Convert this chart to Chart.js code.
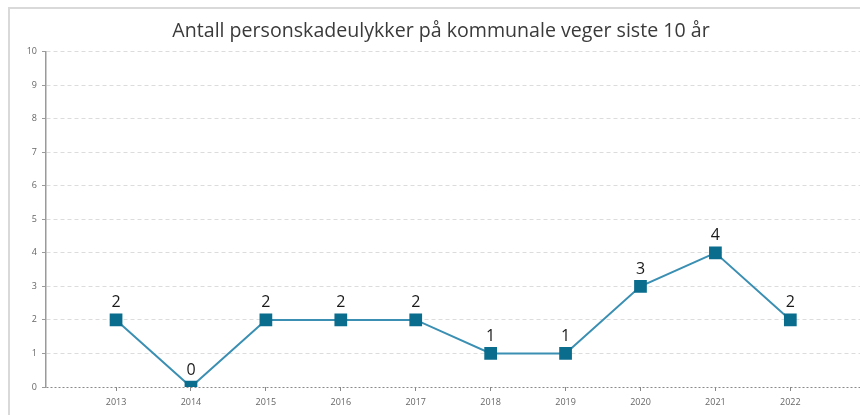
<!DOCTYPE html>
<html>
<head>
<meta charset="utf-8">
<script src="https://cdn.jsdelivr.net/npm/chart.js@4"></script>
<style>
  html, body { margin: 0; padding: 0; background: #fff; overflow: hidden; width: 860px; height: 415px; }
  .frame {
    position: absolute;
    left: 8px;
    top: 7px;
    width: 850px;
    height: 406px;
    border-left: 2px solid #d9d9d9;
    border-top: 2px solid #d9d9d9;
  }
  .wrap { position: absolute; left: 0; top: 0; width: 860px; height: 415px; }
</style>
</head>
<body>
<div class="frame"></div>
<div class="wrap"><canvas id="chart"></canvas></div>
<script>
const title = 'Antall personskadeulykker på kommunale veger siste 10 år';
const years = [2013, 2014, 2015, 2016, 2017, 2018, 2019, 2020, 2021, 2022];
const accidents = [2, 0, 2, 2, 2, 1, 1, 3, 4, 2];
const yTicks = [0, 1, 2, 3, 4, 5, 6, 7, 8, 9, 10];

// simple value labels above the points
const pointLabels = {
  id: 'pointLabels',
  afterDatasetsDraw(chart) {
    const ctx = chart.ctx;
    const meta = chart.getDatasetMeta(0);
    ctx.save();
    ctx.font = '500 16px "Open Sans"';
    ctx.fillStyle = '#1a1a1a';
    ctx.textAlign = 'center';
    ctx.textBaseline = 'middle';
    meta.data.forEach((pt, i) => {
      ctx.fillText(String(accidents[i]), pt.x, pt.y - 17);
    });
    ctx.restore();
  }
};

const ctx = document.getElementById('chart').getContext('2d');
new Chart(ctx, {
  type: 'line',
  data: {
    datasets: [{
      data: years.map((y, i) => ({ x: y, y: accidents[i] })),
      borderColor: '#3a8fb2',
      borderWidth: 2,
      pointStyle: 'rect',
      pointRadius: 9,
      pointBackgroundColor: '#0b6d8e',
      pointBorderColor: '#0b6d8e',
      pointBorderWidth: 0,
      tension: 0,
      clip: { left: 10, top: 10, right: 10, bottom: 0 }
    }]
  },
  options: {
    responsive: true,
    maintainAspectRatio: false,
    animation: false,
    layout: { autoPadding: false, padding: { left: 22, right: 0, top: 0, bottom: 0 } },
    plugins: {
      legend: { display: false },
      tooltip: { enabled: false },
      title: {
        display: true,
        text: title,
        color: '#3a3a3a',
        font: { family: 'Open Sans', size: 19.6, weight: 'normal' },
        padding: { top: 20, bottom: 8 }
      }
    },
    scales: {
      x: {
        type: 'linear',
        min: 2012.065,
        max: 2022.93,
        afterBuildTicks: (scale) => { scale.ticks = years.map(v => ({ value: v })); },
        afterFit: (scale) => {
          scale.height = 28;
          scale.paddingLeft = 0;
          scale.paddingRight = 0;
        },
        border: { display: false },
        grid: { drawOnChartArea: false, color: '#888', tickLength: 4 },
        ticks: {
          color: '#666',
          font: { family: 'Open Sans', size: 9 },
          padding: 6,
          maxRotation: 0,
          callback: (v) => String(v)
        }
      },
      y: {
        min: 0,
        max: 10,
        afterBuildTicks: (scale) => { scale.ticks = yTicks.map(v => ({ value: v })); },
        afterFit: (scale) => { scale.width = 24; },
        border: {
          display: true,
          color: '#9a9a9a',
          width: 1.5,
          dash: (c) => (c.tick && c.tick.value === 0 ? [2, 2] : [4, 3])
        },
        grid: {
          color: (c) => (c.tick && c.tick.value === 0 ? '#8a8a8a' : '#dcdcdc'),
          tickColor: '#9a9a9a',
          tickBorderDash: [],
          tickLength: 4,
          lineWidth: 1
        },
        ticks: {
          color: '#666',
          font: { family: 'Open Sans', size: 9 },
          padding: 5
        }
      }
    }
  },
  plugins: [pointLabels]
});
</script>
</body>
</html>
